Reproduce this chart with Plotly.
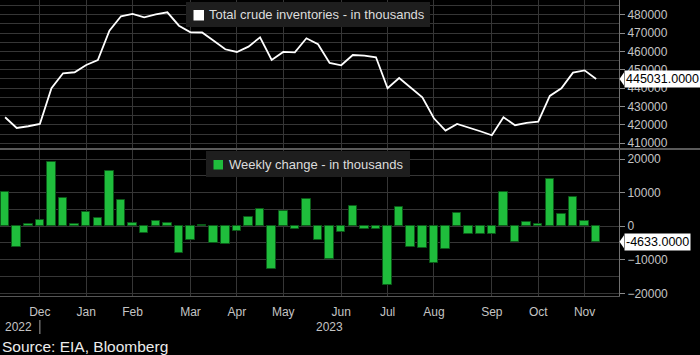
import pandas as pd
import plotly.graph_objects as go
from plotly.subplots import make_subplots

# ---------------- data ----------------
week_dates = pd.date_range("2022-11-18", periods=52, freq="7D")

inventories = [424150, 418320, 419250, 420500, 439940, 448100, 448640, 452620,
               455340, 471290, 479130, 480380, 478580, 480200, 481300, 474010,
               470420, 470300, 465850, 461160, 459700, 462580, 467700, 455340,
               459700, 459530, 467150, 463890, 453710, 452450, 458060, 457680,
               456810, 439940, 445540, 440480, 435040, 423600, 416850, 420500,
               418700, 416520, 414350, 424150, 419790, 421040, 421750, 435740,
               439940, 448430, 449664, 445031]

weekly_change = [10300, -6150, 700, 1700, 19250, 8530, 600, 4170,
                 2380, 16570, 7740, 1090, -1880, 1490, 1090, -7840,
                 -3970, 500, -4860, -5260, -1490, 2880, 5260, -12800,
                 4660, -700, 8040, -3970, -9920, -1590, 5950, -700,
                 -700, -17460, 5850, -6150, -6350, -10910, -6850, 4070,
                 -2280, -2280, -2280, 10320, -4660, 1390, 690, 14090,
                 3570, 8730, 1690, -4633]

tick_dates = ["2022-12-09", "2023-01-06", "2023-02-03", "2023-03-10", "2023-04-07",
              "2023-05-05", "2023-06-09", "2023-07-07", "2023-08-04", "2023-09-08",
              "2023-10-06", "2023-11-03"]
tick_labels = ["Dec", "Jan", "Feb", "Mar", "Apr", "May", "Jun", "Jul", "Aug",
               "Sep", "Oct", "Nov"]
year_labels = ["2022", "2023"]

top_name = "Total crude inventories - in thousands"
bottom_name = "Weekly change - in thousands"
source_text = "Source: EIA, Bloomberg"

# ---------------- styling ----------------
BG = "#000000"
GRID = "#363636"
AXIS = "#707070"
TICKFONT = dict(family="Liberation Sans, Arial, sans-serif", size=12, color="#c4c4c4")
GREEN = "#1fbd3c"
LEGEND_BG = "#1e1e1e"

W, H = 700, 355
PLOT_W, PLOT_H = 619, 296  # plot-area pixel size (margins l=0, t=0)

def px_x(px):
    return px / PLOT_W

def px_y(py):
    return (PLOT_H - py) / PLOT_H

top_range = [407400, 488000]
bot_range = [-20800, 22700]

fig = make_subplots(rows=2, cols=1, shared_xaxes=True, vertical_spacing=0.0)

fig.add_trace(go.Scatter(x=week_dates, y=inventories, mode="lines",
                         line=dict(color="#ffffff", width=1.8),
                         showlegend=False, hoverinfo="skip"), row=1, col=1)

fig.add_trace(go.Bar(x=week_dates, y=weekly_change,
                     marker=dict(color=GREEN, line=dict(color="#0b5a18", width=1)),
                     width=0.733 * 7 * 86400000, showlegend=False,
                     hoverinfo="skip"), row=2, col=1)

x0 = week_dates[0] - pd.Timedelta(days=0.44 * 7)
x1 = week_dates[-1] + pd.Timedelta(days=1.97 * 7)

common_x = dict(range=[x0, x1], tickvals=tick_dates, ticktext=tick_labels,
                showgrid=True, gridcolor=GRID, gridwidth=1, zeroline=False,
                ticks="", tickfont=TICKFONT)
fig.update_xaxes(**common_x)
fig.update_xaxes(showticklabels=False, showline=False, row=1, col=1)
fig.update_xaxes(showticklabels=True, showline=True, linecolor="#555555",
                 linewidth=1, ticklabelstandoff=5, row=2, col=1)

fig.update_yaxes(side="right", showline=True, linecolor=AXIS, linewidth=1,
                 ticks="outside", ticklen=5, tickcolor="#8a8a8a",
                 tickfont=TICKFONT, showgrid=True, gridcolor=GRID,
                 zeroline=False)
fig.update_yaxes(range=top_range, dtick=10000, tick0=0, tickformat="d",
                 minor=dict(dtick=5000, showgrid=True, gridcolor=GRID),
                 row=1, col=1)
fig.update_yaxes(range=bot_range, dtick=10000, tick0=0, tickformat="d",
                 minor=dict(dtick=5000, showgrid=True, gridcolor=GRID),
                 row=2, col=1)

fig.update_layout(
    width=W, height=H,
    margin=dict(l=0, r=W - PLOT_W, t=0, b=H - PLOT_H),
    paper_bgcolor=BG, plot_bgcolor=BG,
    bargap=0,
    yaxis=dict(domain=[px_y(148), 1.0]),
    yaxis2=dict(domain=[0.0, px_y(150)]),
    font=dict(family="Liberation Sans, Arial, sans-serif", color="#dddddd"),
)

shapes = []
annotations = []

# separator between panels
shapes.append(dict(type="line", xref="paper", yref="paper",
                   x0=0, x1=W / PLOT_W, y0=px_y(149), y1=px_y(149),
                   line=dict(color="#5a5a5a", width=2)))

# legend boxes
def legend_box(bx0, bx1, by0, by1, sq, color, text, tx, ty):
    shapes.append(dict(type="rect", xref="paper", yref="paper",
                       x0=px_x(bx0), x1=px_x(bx1), y0=px_y(by1), y1=px_y(by0),
                       fillcolor=LEGEND_BG, line=dict(width=0), layer="above"))
    shapes.append(dict(type="rect", xref="paper", yref="paper",
                       x0=px_x(sq[0]), x1=px_x(sq[1]), y0=px_y(sq[3]), y1=px_y(sq[2]),
                       fillcolor=color, line=dict(width=0), layer="above"))
    annotations.append(dict(xref="paper", yref="paper", x=px_x(tx), y=px_y(ty),
                            xanchor="left", yanchor="middle", showarrow=False,
                            text=text, font=dict(size=13, color="#dcdcdc")))

legend_box(186, 430, 2, 27, (193.5, 204, 10, 20.5), "#ffffff", top_name, 207, 15)
legend_box(206, 410, 151, 177, (213.5, 223, 160, 169.5), GREEN, bottom_name, 227, 164.5)

# last-value labels on the right axis
def value_label(value, yref, rng, ph):
    units_per_px = (rng[1] - rng[0]) / ph
    h = 6.5 * units_per_px
    xa = px_x(624)
    xt = px_x(619.5)
    shapes.append(dict(type="path", xref="paper", yref=yref,
                       path=f"M {xa},{value + h} L {xt},{value} L {xa},{value - h} Z",
                       fillcolor="#ffffff", line=dict(width=0), layer="above"))
    annotations.append(dict(xref="paper", yref=yref, x=xa, y=value,
                            xanchor="left", yanchor="middle", showarrow=False,
                            text=f"{value:.4f}", bgcolor="#ffffff", borderpad=1,
                            font=dict(size=12.5, color="#000000")))

value_label(float(inventories[-1]), "y", top_range, 148)
value_label(float(weekly_change[-1]), "y2", bot_range, 146)

# year labels
annotations.append(dict(xref="paper", yref="paper", x=px_x(34), y=px_y(327),
                        xanchor="right", yanchor="middle", showarrow=False,
                        text=year_labels[0], font=TICKFONT))
annotations.append(dict(xref="paper", yref="paper", x=px_x(329), y=px_y(327),
                        xanchor="center", yanchor="middle", showarrow=False,
                        text=year_labels[1], font=TICKFONT))
shapes.append(dict(type="line", xref="x2", yref="paper",
                   x0=tick_dates[0], x1=tick_dates[0],
                   y0=px_y(320), y1=px_y(334),
                   line=dict(color="#a0a0a0", width=1)))

# source
annotations.append(dict(xref="paper", yref="paper", x=0, y=px_y(346),
                        xanchor="left", yanchor="middle", showarrow=False,
                        text=source_text,
                        font=dict(size=15.5, color="#ececec")))

fig.update_layout(shapes=shapes, annotations=annotations)

fig.write_html("out.html", config={"displayModeBar": False},
               post_script="document.body.style.margin='0px';document.body.style.background='#000';")
